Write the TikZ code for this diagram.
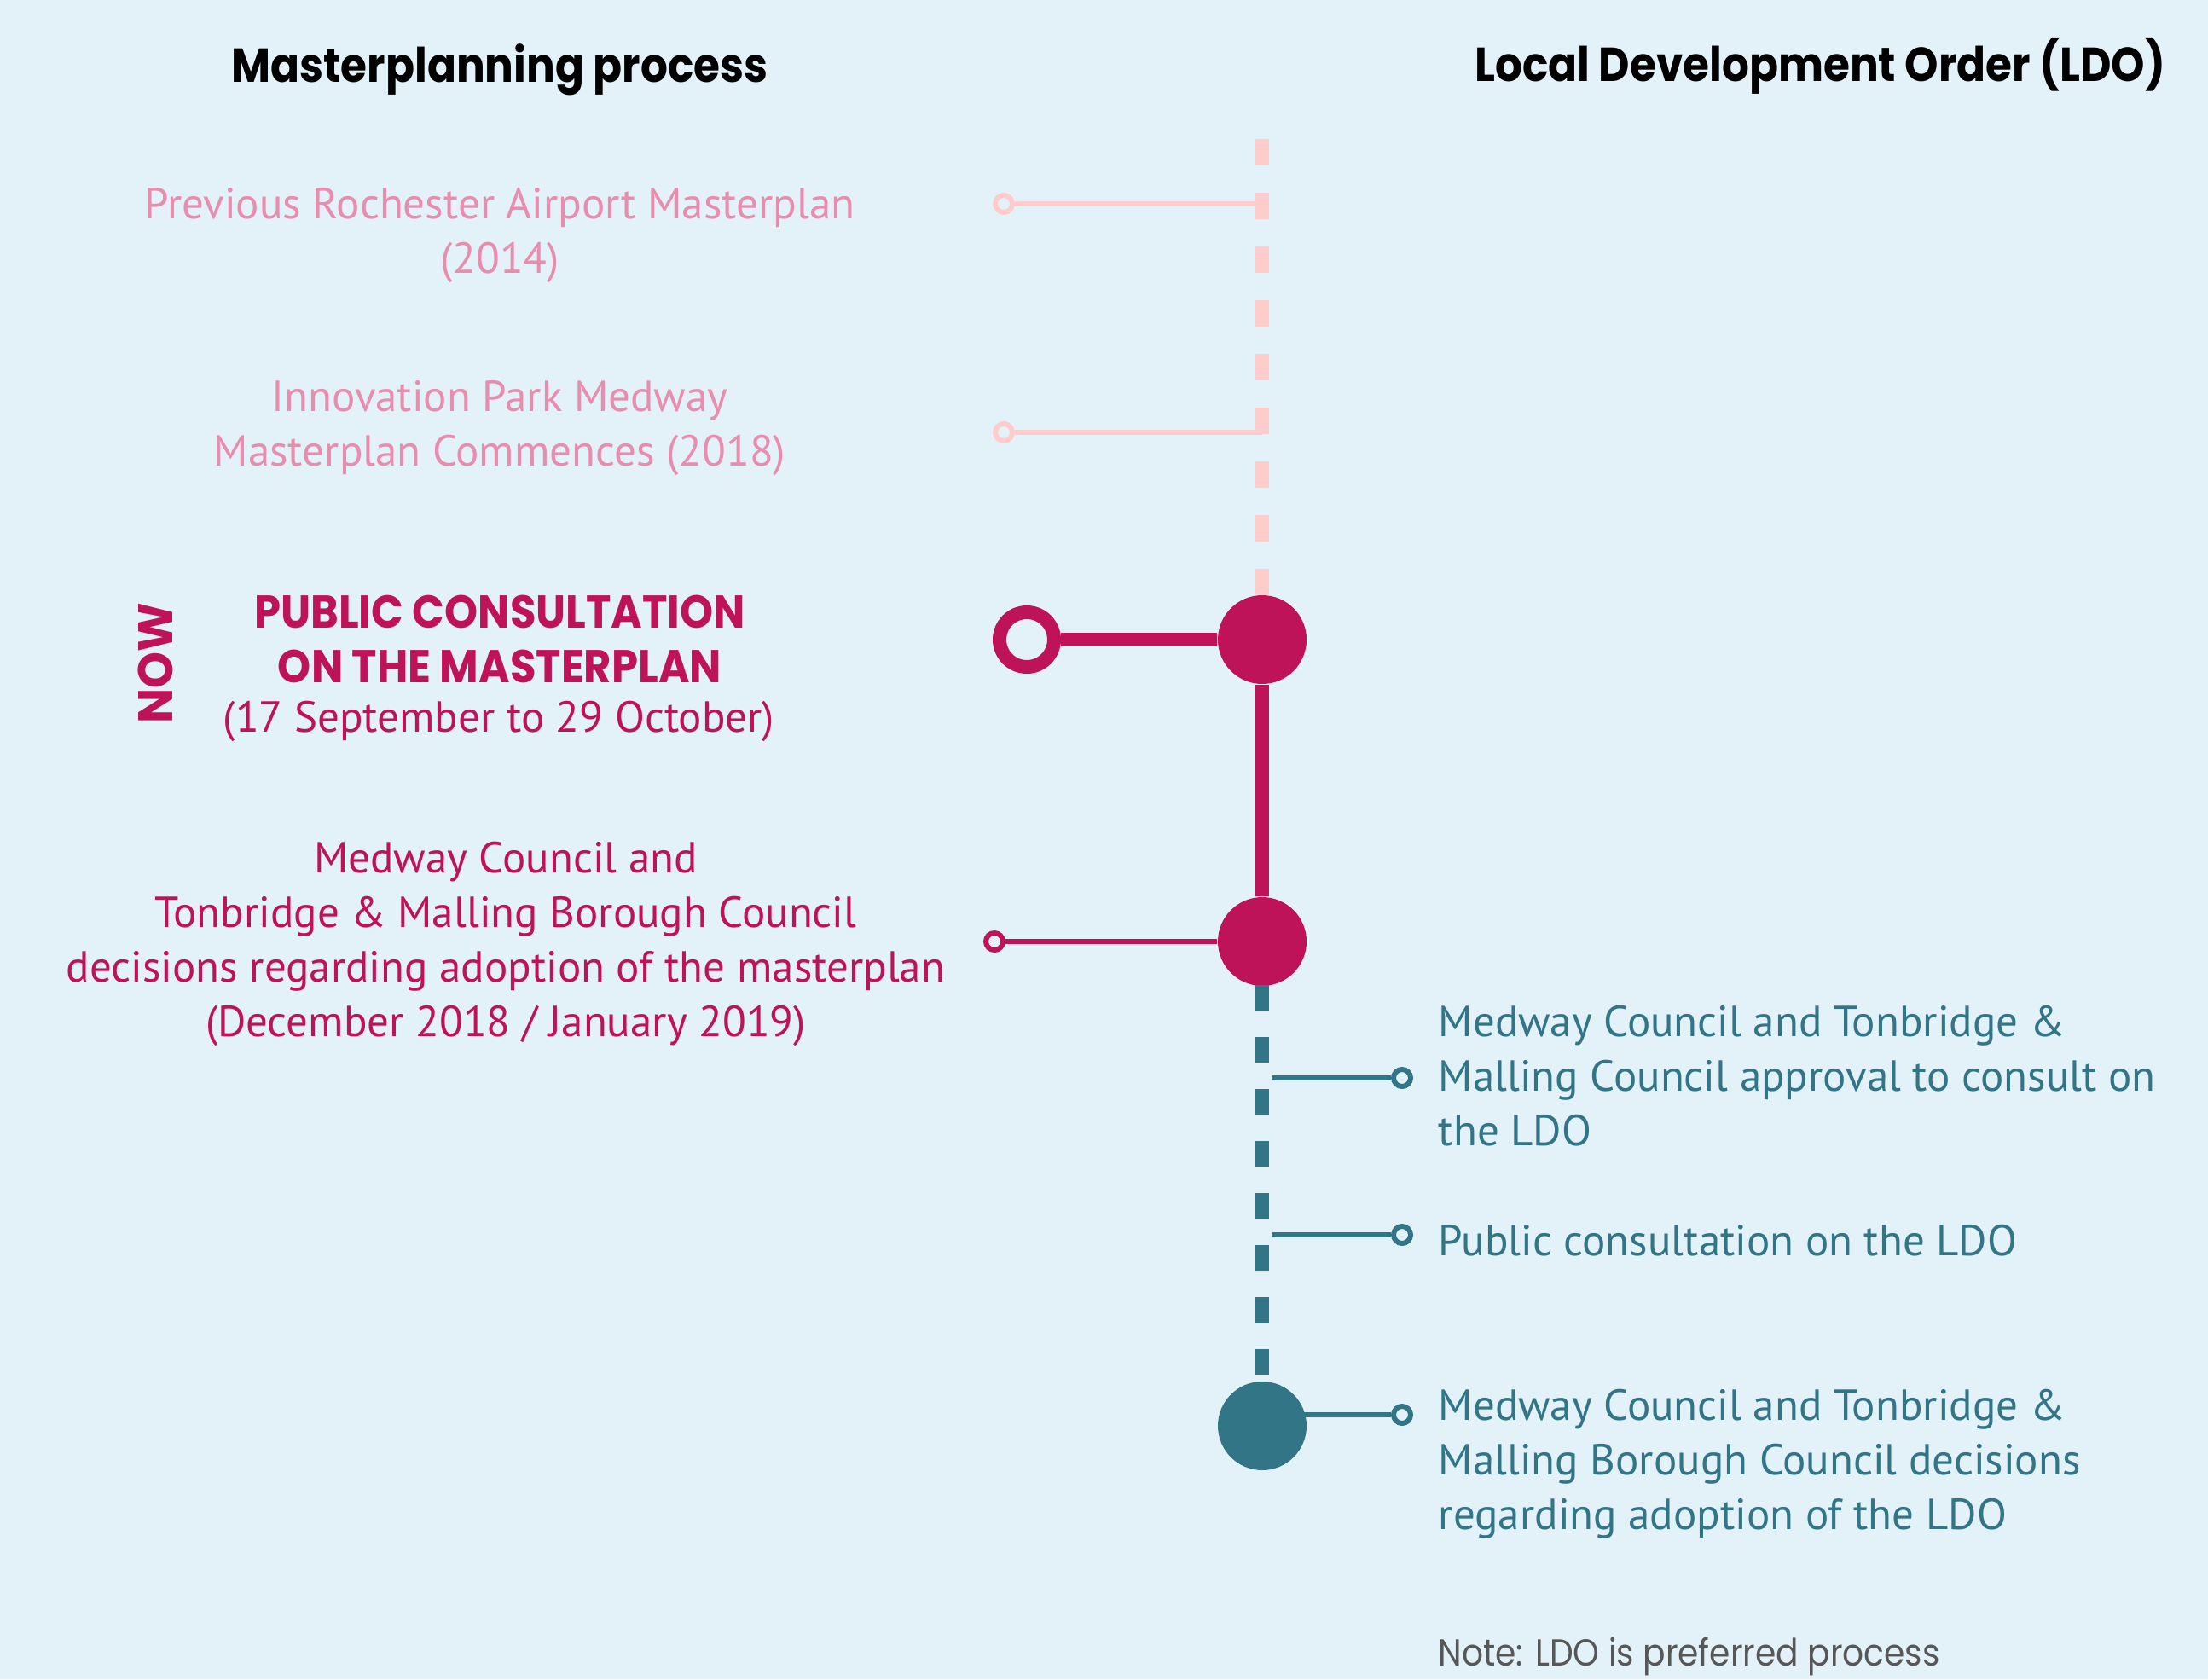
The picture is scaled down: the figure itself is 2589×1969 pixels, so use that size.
\documentclass[tikz,border=0pt]{standalone}
\usepackage{fontspec}
\setmainfont{PT Sans}
\newfontfamily\headfont[FakeStretch=0.895]{Poppins}
\newfontfamily\capsfont[FakeStretch=0.92]{Poppins}
\newfontfamily\nowfont[FakeStretch=0.96]{Poppins}
\newfontfamily\notefont[FakeStretch=0.89]{Poppins}
\newfontfamily\copyfont{PT Sans}
\usetikzlibrary{positioning}

\definecolor{bgblue}{HTML}{E3F2F9}
\definecolor{pastline}{HTML}{FFCCCC}
\definecolor{pasttext}{HTML}{E98DAE}
\definecolor{nowred}{HTML}{BE1358}
\definecolor{ldoteal}{HTML}{327587}
\definecolor{notegrey}{HTML}{575757}

\tikzset{
  heading/.style  = {font=\headfont\bfseries\fontsize{14}{16}\selectfont, inner sep=0pt},
  stage/.style    = {font=\copyfont\fontsize{12.75}{16}\selectfont, align=center, inner sep=0pt},
  ldostage/.style = {stage, align=left, anchor=base west},
  ring/.style     = {circle, draw, fill=bgblue, line width=1.5pt, minimum size=5pt, inner sep=0pt},
  bigring/.style  = {circle, draw, fill=bgblue, line width=4pt, minimum size=16pt, inner sep=0pt},
  milestone/.style = {circle, minimum size=26pt, inner sep=0pt},
  twig/.style     = {line width=1.5pt},
  trunk/.style    = {line width=4pt},
  dashtrunk/.style = {line width=4pt, dash pattern=on 7.75pt off 8pt}
}

\begin{document}
\begin{tikzpicture}[x=0.25pt, y=-0.25pt]
\fill[bgblue] (0,0) rectangle (2589,1969);
\useasboundingbox (0,0) rectangle (2589,1969);

% column headings
\node[heading, anchor=base] (mph) at (586,97) {Masterplanning process};
\node[heading, anchor=base east] (ldoh) at (2540,96) {Local Development Order (LDO)};

% spine: ends of the dashed parts and the big milestones
\coordinate (ptop) at (1480,163);
\coordinate (ltop) at (1480,1155);
\node[milestone, fill=nowred] (pc) at (1480,750) {};
\node[milestone, fill=nowred] (mc) at (1480,1104) {};
\node[milestone, fill=ldoteal] (ldo) at (1480,1672) {};

% the rings at the end of each branch
\node[ring, draw=pastline] (pr1) at (1177,239) {};
\node[ring, draw=pastline] (pr2) at (1177,507) {};
\node[bigring, draw=nowred] (nr) at (1204,750) {};
\node[ring, draw=nowred] (mr) at (1166,1104) {};
\node[ring, draw=ldoteal] (lr1) at (1644,1264) {};
\node[ring, draw=ldoteal] (lr2) at (1644,1448) {};
\node[ring, draw=ldoteal] (lr3) at (1644,1659) {};

% lines of the spine
\draw[dashtrunk, pastline] (ptop) -- (pc);
\draw[trunk, nowred] (pc) -- (mc);
\draw[dashtrunk, ldoteal, dash pattern=on 7.5pt off 7.75pt] (ltop) -- (ldo);

% branches
\foreach \n in {1,2}
  \draw[twig, pastline] (pr\n) -- (pr\n -| ptop);
\draw[trunk, nowred] (nr) -- (pc);
\draw[twig, nowred] (mr) -- (mc);
\foreach \n in {1,2}
  \draw[twig, ldoteal, shorten >=2.75pt] (lr\n) -- (lr\n -| ltop);
\draw[twig, ldoteal] (lr3) -- (lr3 -| ldo);

% masterplanning stages (base = last line)
\node[stage, text=pasttext, anchor=base] (prev) at (586,320)
  {Previous Rochester Airport Masterplan\\(2014)};
\node[stage, text=pasttext, anchor=base] (innov) at (586,546)
  {Innovation Park Medway\\Masterplan Commences (2018)};
\node[font=\capsfont\bfseries\fontsize{13.5}{16}\selectfont, text=nowred,
  align=center, inner sep=0pt, anchor=base] (pubc) at (586,800)
  {PUBLIC CONSULTATION\\ON THE MASTERPLAN};
\node[stage, text=nowred, anchor=base] (pubd) at (585,858) {(17 September to 29 October)};
\node[font=\nowfont\bfseries\fontsize{14.25}{16}\selectfont, text=nowred,
  inner sep=0pt, rotate=90] (now) at (182,778) {NOW};
\node[stage, text=nowred, anchor=base] (adopt) at (593,1215)
  {Medway Council and\\Tonbridge \& Malling Borough Council\\decisions regarding adoption of the masterplan\\(December 2018 / January 2019)};

% LDO stages
\node[ldostage, text=ldoteal] (ldo1) at (1686,1343)
  {Medway Council and Tonbridge \&\\Malling Council approval to consult on\\the LDO};
\node[ldostage, text=ldoteal] (ldo2) at (1686,1472) {Public consultation on the LDO};
\node[ldostage, text=ldoteal] (ldo3) at (1686,1793)
  {Medway Council and Tonbridge \&\\Malling Borough Council decisions\\regarding adoption of the LDO};

\node[font=\notefont\fontsize{11}{13}\selectfont, text=notegrey, inner sep=0pt,
  anchor=base west] (note) at (1686,1953) {Note: LDO is preferred process};
\end{tikzpicture}
\end{document}
